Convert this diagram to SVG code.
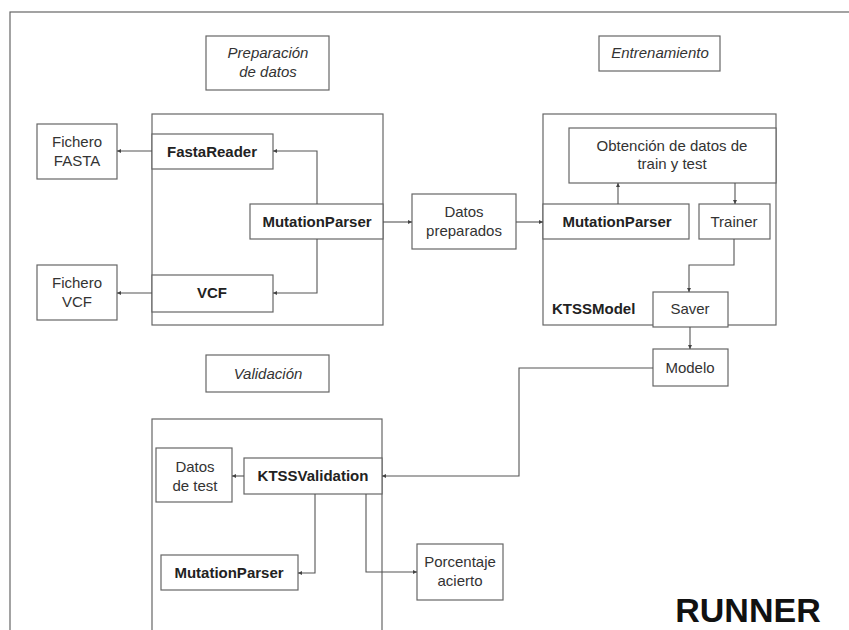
<svg xmlns="http://www.w3.org/2000/svg" width="849" height="630" viewBox="0 0 849 630">
<style>
.box{fill:#fff;stroke:#666;stroke-width:1.2}
.frame{fill:none;stroke:#666;stroke-width:1.2}
.t{font-family:"Liberation Sans",Arial,sans-serif;font-size:15px;fill:#333;text-anchor:middle}
.b{font-weight:bold;fill:#222}
.i{font-style:italic}
.c{fill:none;stroke:#555;stroke-width:1.1;marker-end:url(#ah)}
</style>
<defs>
<marker id="ah" viewBox="0 0 6 6" refX="6" refY="3" markerWidth="4" markerHeight="4" markerUnits="userSpaceOnUse" orient="auto">
<path d="M0,0 L6,3 L0,6 z" fill="#444"/>
</marker>
</defs>
<rect width="849" height="630" fill="#fff"/>
<rect class="frame" x="10" y="12" width="850" height="640"/>

<g id="prep-label"><rect class="box" x="206" y="36" width="123" height="54"/><text class="t i" x="268" y="58">Preparación</text><text class="t i" x="268" y="77">de datos</text></g>
<g id="entr-label"><rect class="box" x="599" y="36" width="121" height="35"/><text class="t i" x="660" y="58">Entrenamiento</text></g>
<g id="val-label"><rect class="box" x="206" y="355" width="123" height="37"/><text class="t i" x="268" y="379">Validación</text></g>

<g id="container-prep"><rect class="box" x="152" y="114" width="231" height="211"/></g>
<g id="container-ktssmodel"><rect class="box" x="543" y="114" width="233" height="211"/><text class="t b" x="552" y="314" style="text-anchor:start">KTSSModel</text></g>
<g id="container-val"><rect class="box" x="152" y="419" width="230" height="240"/></g>

<g id="fichero-fasta"><rect class="box" x="37" y="124" width="80" height="55"/><text class="t" x="77" y="147">Fichero</text><text class="t" x="77" y="166">FASTA</text></g>
<g id="fastareader"><rect class="box" x="152" y="134" width="121" height="35"/><text class="t b" x="212" y="157">FastaReader</text></g>
<g id="mutationparser1"><rect class="box" x="250" y="204" width="133" height="35"/><text class="t b" x="317" y="227">MutationParser</text></g>
<g id="vcf"><rect class="box" x="152" y="275" width="121" height="37"/><text class="t b" x="212" y="298">VCF</text></g>
<g id="fichero-vcf"><rect class="box" x="37" y="265" width="80" height="55"/><text class="t" x="77" y="288">Fichero</text><text class="t" x="77" y="307">VCF</text></g>

<g id="datos-preparados"><rect class="box" x="412" y="194" width="104" height="55"/><text class="t" x="464" y="217">Datos</text><text class="t" x="464" y="236">preparados</text></g>

<g id="obtencion"><rect class="box" x="569" y="128" width="207" height="55"/><text class="t" x="672" y="151">Obtención de datos de</text><text class="t" x="672" y="169">train y test</text></g>
<g id="mutationparser2"><rect class="box" x="543" y="204" width="146" height="35"/><text class="t b" x="617" y="227">MutationParser</text></g>
<g id="trainer"><rect class="box" x="699" y="204" width="71" height="35"/><text class="t" x="734" y="227">Trainer</text></g>
<g id="saver"><rect class="box" x="653" y="292" width="75" height="35"/><text class="t" x="690" y="314">Saver</text></g>
<g id="modelo"><rect class="box" x="653" y="349" width="75" height="37"/><text class="t" x="690" y="373">Modelo</text></g>

<g id="datos-test"><rect class="box" x="156" y="448" width="76" height="54"/><text class="t" x="195" y="472">Datos</text><text class="t" x="195" y="491">de test</text></g>
<g id="ktssvalidation"><rect class="box" x="244" y="458" width="138" height="36"/><text class="t b" x="313" y="481">KTSSValidation</text></g>
<g id="mutationparser3"><rect class="box" x="161" y="555" width="137" height="35"/><text class="t b" x="229" y="578">MutationParser</text></g>
<g id="porcentaje"><rect class="box" x="417" y="544" width="86" height="56"/><text class="t" x="460" y="567">Porcentaje</text><text class="t" x="460" y="586">acierto</text></g>

<g id="runner"><text x="748" y="622" style="font-family:'Liberation Sans',Arial,sans-serif;font-size:34px;font-weight:bold;fill:#111;text-anchor:middle">RUNNER</text></g>

<g id="connectors">
<path class="c" d="M152,151 H117"/>
<path class="c" d="M152,293 H117"/>
<path class="c" d="M317,204 V151 H273"/>
<path class="c" d="M317,239 V293 H273"/>
<path class="c" d="M383,222 H412"/>
<path class="c" d="M516,222 H543"/>
<path class="c" d="M618,204 V183"/>
<path class="c" d="M735,183 V204"/>
<path class="c" d="M734,239 V265 H689 V292"/>
<path class="c" d="M690,327 V349"/>
<path class="c" d="M653,368 H519 V476 H382"/>
<path class="c" d="M244,476 H232"/>
<path class="c" d="M315,494 V573 H298"/>
<path class="c" d="M366,494 V572 H417"/>
</g>
</svg>
